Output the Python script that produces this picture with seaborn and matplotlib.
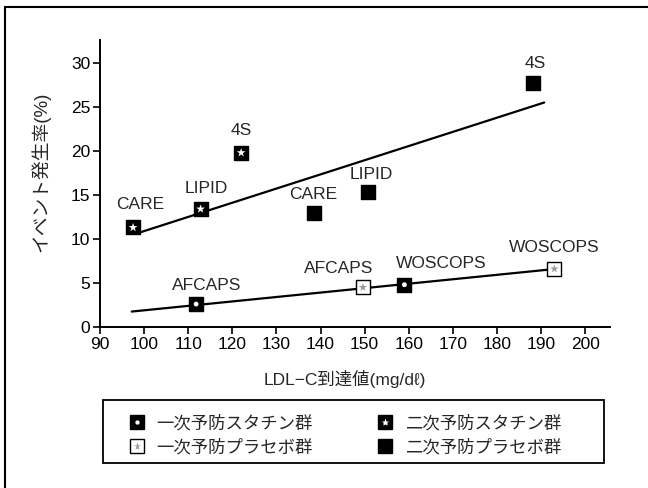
import numpy as np
import pandas as pd
import matplotlib
matplotlib.use('Agg')
import matplotlib.pyplot as plt
import seaborn as sns
from matplotlib.lines import Line2D
from matplotlib.patches import Rectangle
from matplotlib.legend_handler import HandlerTuple

# 一次予防スタチン群
ps_study = ['AFCAPS', 'WOSCOPS']
ps_ldl = [111.8, 159.0]
ps_rate = [2.6, 4.8]
# 一次予防プラセボ群
pp_study = ['AFCAPS', 'WOSCOPS']
pp_ldl = [149.6, 193.0]
pp_rate = [4.5, 6.6]
# 二次予防スタチン群
ss_study = ['CARE', 'LIPID', '4S']
ss_ldl = [97.5, 112.8, 122.0]
ss_rate = [11.3, 13.4, 19.8]
# 二次予防プラセボ群
sp_study = ['CARE', 'LIPID', '4S']
sp_ldl = [138.6, 150.7, 188.1]
sp_rate = [13.0, 15.3, 27.7]

# 回帰直線（図から読み取った両端）
prim_fit_ldl = [97.2, 193.4]
prim_fit_rate = [1.75, 6.6]
sec_fit_ldl = [98.5, 190.7]
sec_fit_rate = [10.65, 25.5]

group_names = ['一次予防スタチン群', '一次予防プラセボ群', '二次予防スタチン群', '二次予防プラセボ群']
x_ticks = list(range(90, 201, 10))
y_ticks = list(range(0, 31, 5))

# データフレームにまとめる
parts = []
for name, st, xs, ys in zip(group_names,
                            [ps_study, pp_study, ss_study, sp_study],
                            [ps_ldl, pp_ldl, ss_ldl, sp_ldl],
                            [ps_rate, pp_rate, ss_rate, sp_rate]):
    parts.append(pd.DataFrame({'group': name, 'study': st, 'ldl': xs, 'rate': ys}))
df = pd.concat(parts, ignore_index=True)

# 見た目の設定（外側の四角 + 内側の記号）
styles = {
    '一次予防スタチン群': dict(face='black', inner='o', inner_color='white', inner_s=12),
    '一次予防プラセボ群': dict(face='white', inner='*', inner_color='0.6', inner_s=40),
    '二次予防スタチン群': dict(face='black', inner='*', inner_color='white', inner_s=45),
    '二次予防プラセボ群': dict(face='black', inner=None, inner_color=None, inner_s=0),
}
# ラベルの位置ずれ（points）
label_offsets = {
    ('一次予防スタチン群', 'AFCAPS'): (7.7, 13.7),
    ('一次予防スタチン群', 'WOSCOPS'): (26.6, 15.6),
    ('一次予防プラセボ群', 'AFCAPS'): (-17.3, 13.7),
    ('一次予防プラセボ群', 'WOSCOPS'): (0, 15.1),
    ('二次予防スタチン群', 'CARE'): (5, 16.5),
    ('二次予防スタチン群', 'LIPID'): (4.3, 15),
    ('二次予防スタチン群', '4S'): (0, 16),
    ('二次予防プラセボ群', 'CARE'): (-0.7, 12.7),
    ('二次予防プラセボ群', 'LIPID'): (2.9, 12.7),
    ('二次予防プラセボ群', '4S'): (1.7, 14),
}

sns.set_style('ticks')
plt.rcParams['font.family'] = ['Liberation Sans', 'Noto Sans CJK JP', 'DejaVu Sans']

fig = plt.figure(figsize=(6.48, 4.88), dpi=100)
ax = fig.add_axes([0.1543, 0.330, 0.787, 0.588])

# 回帰直線
sns.lineplot(x=prim_fit_ldl, y=prim_fit_rate, color='black', lw=1.6, ax=ax)
sns.lineplot(x=sec_fit_ldl, y=sec_fit_rate, color='black', lw=1.6, ax=ax)

handles = []
for name in group_names:
    st = styles[name]
    sub = df[df['group'] == name]
    sns.scatterplot(data=sub, x='ldl', y='rate', marker='s', s=115, color=st['face'],
                    edgecolor='black', linewidth=1.0, ax=ax, legend=False, zorder=3)
    h = [Line2D([], [], marker='s', ls='', markersize=10.5, markerfacecolor=st['face'],
                markeredgecolor='black', markeredgewidth=1.0)]
    if st['inner']:
        sns.scatterplot(data=sub, x='ldl', y='rate', marker=st['inner'], s=st['inner_s'],
                        color=st['inner_color'], edgecolor='none', linewidth=0,
                        ax=ax, legend=False, zorder=4)
        h.append(Line2D([], [], marker=st['inner'], ls='', markersize=np.sqrt(st['inner_s']) * 0.9,
                        markerfacecolor=st['inner_color'], markeredgecolor='none'))
    handles.append(tuple(h))
    # 試験名ラベル
    for _, r in sub.iterrows():
        ax.annotate(r['study'], (r['ldl'], r['rate']), xytext=label_offsets[(name, r['study'])],
                    textcoords='offset points', ha='center', va='center', fontsize=12.5)

ax.set_xlim(90, 205.6)
ax.set_ylim(0, 32.6)
ax.set_xticks(x_ticks)
ax.set_yticks(y_ticks)
ax.tick_params(direction='out', length=5, width=1.2, labelsize=12.5, pad=2, colors='black')
for sp in ['left', 'bottom']:
    ax.spines[sp].set_linewidth(1.4)
    ax.spines[sp].set_color('black')
sns.despine(ax=ax)

ax.set_xlabel('LDL−C到達値(mg/dℓ)', fontsize=12.5, va='center')
ax.xaxis.set_label_coords(0.48, -0.181)
ax.set_ylabel('イベント発生率(%)', fontsize=13.5, va='center')
ax.yaxis.set_label_coords(-0.116, 0.54)

# 凡例（枠は別に描く）
leg = fig.legend(handles, group_names, ncol=2, loc='upper left',
                 bbox_to_anchor=(128 / 648, 1 - 415 / 488),
                 frameon=False, fontsize=12.5, borderpad=0, borderaxespad=0,
                 handlelength=1.0, handletextpad=0.65, columnspacing=3.67,
                 labelspacing=0.42,
                 handler_map={tuple: HandlerTuple(ndivide=1, pad=0)})
fig.add_artist(Rectangle((103 / 648, 1 - 463 / 488), 501 / 648, 63 / 488,
                         transform=fig.transFigure, fill=False, edgecolor='black', lw=1.3))

# 外枠（左と上）
fig.add_artist(Line2D([5 / 648, 5 / 648], [0, 1 - 7 / 488], transform=fig.transFigure,
                      color='black', lw=1.5))
fig.add_artist(Line2D([5 / 648, 1], [1 - 7 / 488, 1 - 7 / 488], transform=fig.transFigure,
                      color='black', lw=1.5))

fig.savefig('out.png', dpi=100)
